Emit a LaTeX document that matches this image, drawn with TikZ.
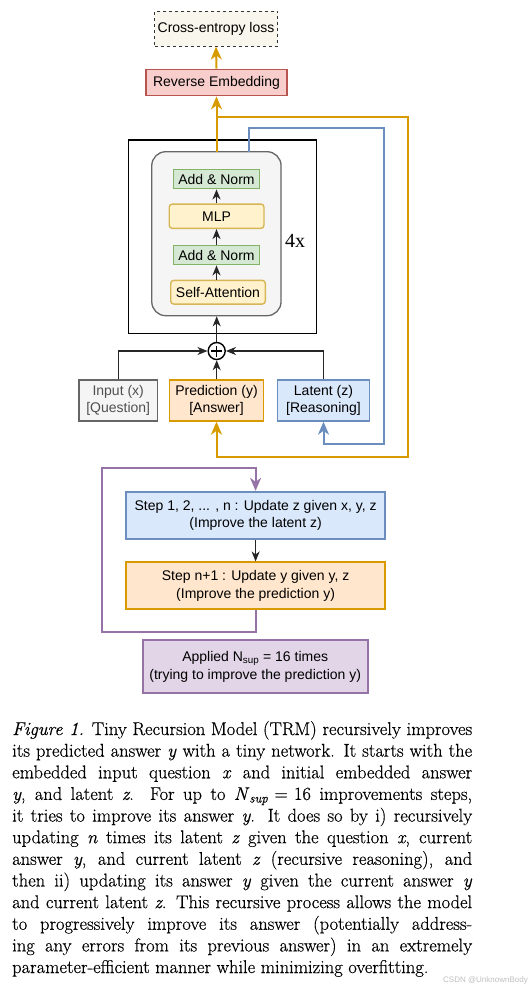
\documentclass[tikz,border=0pt]{standalone}
\usepackage{fontspec}
\newfontfamily\diag{Liberation Sans}
\newfontfamily\serx{Liberation Serif}
\newfontfamily\capfont{Latin Modern Roman}[FakeBold=0.45, ItalicFeatures={FakeBold=0.45}]
\usetikzlibrary{arrows.meta}
\definecolor{oran}{HTML}{D79B00}
\definecolor{bluel}{HTML}{6C8EBF}
\definecolor{purp}{HTML}{9673A6}
\newcommand{\vv}[1]{\textit{#1}}
\tikzset{
  box/.style={draw, line width=1.4pt, inner sep=0pt, align=center},
  blk/.style={draw=black!85, line width=1.3pt, -{Stealth[length=10pt,width=8pt,inset=3pt]}},
  thick col/.style={line width=2pt, -{Stealth[length=13pt,width=11pt,inset=4pt]}},
  capline/.style={anchor=base west, inner sep=0pt, font=\capfont\fontsize{18.5}{21.6}\selectfont},
}
\begin{document}
\begin{tikzpicture}[x=1pt,y=-1pt, font=\diag\fontsize{14}{17.7}\selectfont]
\useasboundingbox (0,0) rectangle (531,989);
% top boxes
\node[box, dashed, draw=black!80, line width=1pt, fill={rgb,255:red,249;green,247;blue,237}, minimum width=123, minimum height=35] (ce) at (216,28.5) {Cross-entropy loss};
\node[box, draw={rgb,255:red,184;green,84;blue,80}, fill={rgb,255:red,248;green,206;blue,204}, minimum width=141, minimum height=26.4] (rev) at (216.5,82.5) {Reverse Embedding};
% transformer block
\node[draw=black, line width=1.3pt, minimum width=188.4, minimum height=193.3, inner sep=0pt] (outer) at (222.5,236.7) {};
\node[draw={rgb,255:red,102;green,102;blue,102}, fill={rgb,255:red,245;green,245;blue,245}, line width=1.3pt, rounded corners=14pt, minimum width=129.3, minimum height=164, inner sep=0pt] (gray) at (216.4,233.7) {};
\node[box, draw={rgb,255:red,130;green,179;blue,102}, fill={rgb,255:red,213;green,232;blue,212}, minimum width=86, minimum height=19.4] (an2) at (216.5,179) {Add \& Norm};
\node[box, rounded corners=3pt, draw={rgb,255:red,214;green,182;blue,86}, fill={rgb,255:red,255;green,242;blue,204}, minimum width=94.7, minimum height=24.3] (mlp) at (216.6,216.2) {MLP};
\node[box, draw={rgb,255:red,130;green,179;blue,102}, fill={rgb,255:red,213;green,232;blue,212}, minimum width=86, minimum height=19] (an1) at (216.5,255.2) {Add \& Norm};
\node[box, rounded corners=3pt, draw={rgb,255:red,214;green,182;blue,86}, fill={rgb,255:red,255;green,242;blue,204}, minimum width=94.6, minimum height=23.7] (sa) at (218,292.2) {Self-Attention};
\node[font=\serx\fontsize{20}{22}\selectfont, inner sep=0pt] (four) at (295,241) {4x};
% plus
\node[draw=black, line width=1.4pt, circle, minimum size=17, inner sep=0pt] (plus) at (216.7,351) {};
\draw[line width=1.4pt] ([xshift=-5.5]plus.center) -- ([xshift=5.5]plus.center);
\draw[line width=1.4pt] ([yshift=-5.5]plus.center) -- ([yshift=5.5]plus.center);
% inputs
\node[box, draw={rgb,255:red,102;green,102;blue,102}, fill={rgb,255:red,245;green,245;blue,245}, text={rgb,255:red,80;green,80;blue,80}, minimum width=78.3, minimum height=41] (inp) at (118.2,400.5) {Input (x)\\{[Question]}};
\node[box, draw=oran, fill={rgb,255:red,255;green,230;blue,204}, minimum width=94, minimum height=41] (pred) at (216.5,400.5) {Prediction (y)\\{[Answer]}};
\node[box, draw=bluel, fill={rgb,255:red,218;green,232;blue,252}, minimum width=91.6, minimum height=41] (lat) at (323.5,400.5) {Latent (z)\\{[Reasoning]}};
% steps
\node[box, line width=1.8pt, draw=bluel, fill={rgb,255:red,218;green,232;blue,252}, minimum width=259.3, minimum height=47.3] (s1) at (255.6,515.4) {Step 1, 2, ... , n : Update z given x, y, z\\(Improve the latent z)};
\node[box, line width=1.8pt, draw=oran, fill={rgb,255:red,255;green,230;blue,204}, minimum width=259.3, minimum height=46.7] (sn) at (255.6,585.7) {Step n+1 : Update y given y, z\\(Improve the prediction y)};
\node[box, line width=1.8pt, draw=purp, fill={rgb,255:red,225;green,213;blue,231}, minimum width=225, minimum height=53] (app) at (255.2,666.8) {Applied N\textsubscript{sup} = 16 times\\(trying to improve the prediction y)};
% coordinates
\coordinate (og) at (216.5,151.7);
\coordinate (ob) at (216.5,116.7);
\coordinate (or) at (407.7,116.7);
\coordinate (orb) at (407.7,456.7);
\coordinate (bg) at (248.7,151.7);
\coordinate (bt) at (248.7,127.7);
\coordinate (br) at (384.3,127.7);
\coordinate (brb) at (384.3,444.3);
\coordinate (pl) at (102.3,632.3);
\coordinate (pt) at (102.3,468.3);
% orange
\draw[oran, thick col] (og) -- (rev.south);
\draw[oran, thick col] (rev.north) -- (ce.south);
\draw[oran, thick col] (ob) -- (or) -- (orb) -| (pred.south);
% blue
\draw[bluel, thick col] (bg) -- (bt) -- (br) -- (brb) -| (lat.south);
% black
\draw[blk] (sa.north -| an1.south) -- (an1.south);
\draw[blk] (an1.north) -- (mlp.south -| an1.north);
\draw[blk] (mlp.north -| an2.south) -- (an2.south);
\draw[blk] (plus.north) -- (plus.north |- gray.south);
\draw[blk] (inp.north) |- (plus.west);
\draw[blk] (lat.north) |- (plus.east);
\draw[blk] (pred.north -| plus.south) -- (plus.south);
\draw[blk] (s1.south) -- (sn.north);
% purple loop
\draw[purp, thick col] (sn.south) -- (sn.south |- pl) -- (pl) -- (pt) -- (pt -| s1.north) -- (s1.north);
% caption
\node[capline] (c1) at (12,735) {\makebox[460pt][s]{\textit{Figure 1.} Tiny Recursion Model (TRM) recursively improves}};
\node[capline] (c2) at (12,756.64) {\makebox[460pt][s]{its predicted answer \vv{y} with a tiny network. It starts with the}};
\node[capline] (c3) at (12,778.28) {\makebox[460pt][s]{embedded input question \vv{x} and initial embedded answer}};
\node[capline] (c4) at (12,799.92) {\makebox[460pt][s]{\vv{y}, and latent \vv{z}. For up to \vv{N}\textsubscript{\vv{sup}}\,\,=\,\,16 improvements steps,}};
\node[capline] (c5) at (12,821.56) {\makebox[460pt][s]{it tries to improve its answer \vv{y}. It does so by i) recursively}};
\node[capline] (c6) at (12,843.2) {\makebox[460pt][s]{updating \vv{n} times its latent \vv{z} given the question \vv{x}, current}};
\node[capline] (c7) at (12,864.84) {\makebox[460pt][s]{answer \vv{y}, and current latent \vv{z} (recursive reasoning), and}};
\node[capline] (c8) at (12,886.48) {\makebox[460pt][s]{then ii) updating its answer \vv{y} given the current answer \vv{y}}};
\node[capline] (c9) at (12,908.12) {\makebox[460pt][s]{and current latent \vv{z}. This recursive process allows the model}};
\node[capline] (c10) at (12,929.76) {\makebox[460pt][s]{to progressively improve its answer (potentially address-}};
\node[capline] (c11) at (12,951.4) {\makebox[460pt][s]{ing any errors from its previous answer) in an extremely}};
\node[capline] (c12) at (12,973.04) {parameter-efficient manner while minimizing overfitting.};
\node[font=\diag\fontsize{8}{9}\selectfont, text=black!25, anchor=base east, inner sep=0pt] (wm) at (528,982) {CSDN @UnknownBody};
\end{tikzpicture}
\end{document}
